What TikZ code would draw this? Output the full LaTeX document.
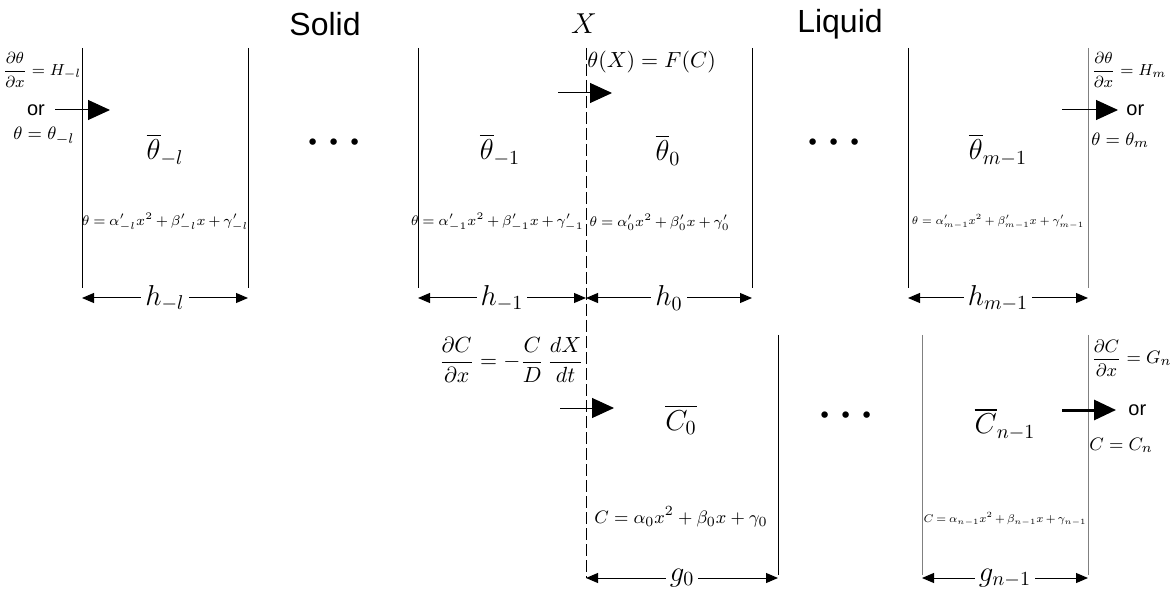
\documentclass[tikz,border=0pt]{standalone}
\usepackage{amsmath}
\usepackage{fontspec}
\setmainfont{Liberation Serif}
\setsansfont{Liberation Sans}
\usetikzlibrary{arrows.meta}
\newcommand\tightmath{\medmuskip=3mu\relax\thickmuskip=4mu\relax}

\begin{document}
\begin{tikzpicture}[x=0.5pt, y=-0.5pt,
  wall/.style={line width=0.5pt},
  iface/.style={line width=0.5pt, dash pattern=on 6pt off 2pt},
  dim/.style={{Triangle[length=6pt,width=5pt]}-{Triangle[length=6pt,width=5pt]}, line width=0.5pt},
  flux/.style={-{Triangle[length=11pt,width=10pt]}, line width=0.5pt},
  title/.style={font=\sffamily\fontsize{16}{18}\selectfont},
  orlbl/.style={font=\sffamily\fontsize{10}{12}\selectfont, inner sep=1pt},
  mean/.style={font=\fontsize{14}{16}\selectfont},
  eq/.style={font=\fontsize{7.4}{9}\selectfont\tightmath, inner sep=0pt},
  bc/.style={font=\fontsize{8.5}{10}\selectfont, inner sep=0pt},
  dimlbl/.style={font=\fontsize{14}{16}\selectfont, fill=white, inner sep=2pt},
  dots/.style={font=\fontsize{20}{20}\selectfont\boldmath}]
  \useasboundingbox (0,0) rectangle (1171,598);
  % Headings
  \node[title] (solid) at (325,24) {Solid};
  \node[font=\fontsize{14}{16}\selectfont] (front) at (584,24) {$X$};
  \node[title] (liquid) at (840,24) {Liquid};
  % Walls of the theta cells
  \foreach \x in {82,248,418,752,908} {
    \draw[wall] (\x,48) -- (\x,288);
  }
  \draw[wall, gray] (1088,48) -- (1088,288);
  % Walls of the C cells
  \draw[wall] (778,335) -- (778,575);
  \draw[wall, gray] (922,335) -- (922,575);
  \draw[wall, gray] (1088,335) -- (1088,575);
  % Moving interface
  \draw[iface] (586,48) -- (586,578);
  % Dimension ends
  \foreach \n/\x in {a/82,b/248,c/418,d/586,e/752,f/908,g/1088} {
    \coordinate (h\n) at (\x,298);
  }
  \foreach \n/\x in {a/586,b/778,c/922,d/1088} {
    \coordinate (g\n) at (\x,578);
  }
  \draw[dim] (ha) -- (hb) node[midway, dimlbl] {$h_{-l}$};
  \draw[dim] (hc) -- (hd) node[midway, dimlbl] {$h_{-1}$};
  \draw[dim] (hd) -- (he) node[midway, dimlbl] {$h_{0}$};
  \draw[dim] (hf) -- (hg) node[midway, dimlbl] {$h_{m-1}$};
  \draw[dim] (ga) -- (gb) node[midway, dimlbl] {$g_{0}$};
  \draw[dim] (gc) -- (gd) node[midway, dimlbl] {$g_{n-1}$};
  % Cell means
  \node[mean] (m1) at (165,150) {$\overline{\theta}_{-l}$};
  \node[dots] (d1) at (338,143) {$\cdots$};
  \node[mean] (m2) at (500,150) {$\overline{\theta}_{-1}$};
  \node[mean] (m3) at (668,150) {$\overline{\theta}_{0}$};
  \node[dots] (d2) at (838,143) {$\cdots$};
  \node[mean] (m4) at (998,150) {$\overline{\theta}_{m-1}$};
  \node[mean] (c1) at (681,420) {$\overline{C_0}$};
  \node[dots] (d3) at (850,416) {$\cdots$};
  \node[mean] (c2) at (1005,424) {$\overline{C}_{n-1}$};
  % Profiles in each cell
  \node[eq] (p1) at (165,222) {$\theta=\alpha'_{-l}x^2+\beta'_{-l}x+\gamma'_{-l}$};
  \node[eq, anchor=east, font=\fontsize{7.2}{9}\selectfont\tightmath] (p2) at (584,222) {$\theta=\alpha'_{-1}x^2+\beta'_{-1}x+\gamma'_{-1}$};
  \node[eq, anchor=west] (p3) at (589,222) {$\theta=\alpha'_{0}x^2+\beta'_{0}x+\gamma'_{0}$};
  \node[eq, font=\fontsize{7.4}{9}\selectfont, scale=0.8, transform shape] (p4) at (998,222) {$\theta=\alpha'_{m-1}x^2+\beta'_{m-1}x+\gamma'_{m-1}$};
  \node[eq, font=\fontsize{9.5}{11}\selectfont] (p5) at (681,517) {$C=\alpha_{0}x^2+\beta_{0}x+\gamma_{0}$};
  \node[eq, scale=0.8, transform shape] (p6) at (1005,519) {$C=\alpha_{n-1}x^2+\beta_{n-1}x+\gamma_{n-1}$};
  % Left boundary
  \node[bc] (bl1) at (42,70) {$\dfrac{\partial\theta}{\partial x}=H_{-l}$};
  \node[orlbl] (or1) at (36,110) {or};
  \node[bc, font=\fontsize{9.5}{11}\selectfont] (bl2) at (44,136) {$\theta=\theta_{-l}$};
  \coordinate (fl1a) at (55,110);
  \coordinate (fl1b) at (110,110);
  \draw[flux] (fl1a) -- (fl1b);
  % Interface conditions
  \node[bc, anchor=west, font=\fontsize{10.5}{12}\selectfont] (ic1) at (587,62) {$\theta(X)=F(C)$};
  \coordinate (fl2a) at (558,93);
  \coordinate (fl2b) at (612,93);
  \draw[flux] (fl2a) -- (fl2b);
  \node[bc, anchor=east, font=\fontsize{10.5}{12}\selectfont] (ic2) at (584,360) {$\dfrac{\partial C}{\partial x}=-\dfrac{C}{D}\,\dfrac{dX}{dt}$};
  \coordinate (fl3a) at (560,408);
  \coordinate (fl3b) at (614,408);
  \draw[flux] (fl3a) -- (fl3b);
  % Right boundary, theta
  \node[bc, anchor=west] (br1) at (1091,70) {$\dfrac{\partial\theta}{\partial x}=H_{m}$};
  \coordinate (fl4a) at (1062,110);
  \coordinate (fl4b) at (1118,110);
  \draw[flux] (fl4a) -- (fl4b);
  \node[orlbl, anchor=west] (or2) at (1124,110) {or};
  \node[bc, anchor=west, font=\fontsize{9.5}{11}\selectfont] (br2) at (1091,140) {$\theta=\theta_{m}$};
  % Right boundary, C
  \node[bc, anchor=west, font=\fontsize{9.5}{11}\selectfont] (br3) at (1091,358) {$\dfrac{\partial C}{\partial x}=G_{n}$};
  \coordinate (fl5a) at (1062,410);
  \coordinate (fl5b) at (1116,410);
  \draw[flux, line width=1.5pt] (fl5a) -- (fl5b);
  \node[orlbl, anchor=west] (or3) at (1126,410) {or};
  \node[bc, anchor=west, font=\fontsize{9.5}{11}\selectfont] (br4) at (1089,445) {$C=C_{n}$};
\end{tikzpicture}
\end{document}
